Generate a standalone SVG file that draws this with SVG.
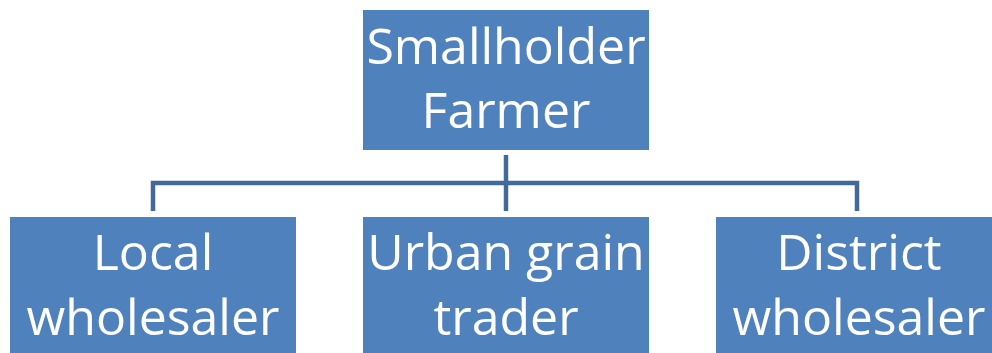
<svg xmlns="http://www.w3.org/2000/svg" width="992" height="353" viewBox="0 0 992 353">
<style>
.box{fill:#4f81bd;}
.t{fill:#ffffff;font-family:"Open Sans","Noto Sans","Liberation Sans",sans-serif;font-size:50px;text-anchor:middle;}
.c{fill:none;stroke:#41699a;stroke-width:4.5;}
</style>
<rect width="992" height="353" fill="#ffffff"/>
<g id="connectors">
<line class="c" x1="506" y1="155" x2="506" y2="211"/>
<polyline class="c" points="153,211 153,183 857,183 857,211"/>
</g>
<g id="smallholder-farmer">
<rect class="box" x="363" y="10" width="286" height="140"/>
<text class="t" x="506" y="64">Smallholder</text>
<text class="t" x="506" y="128">Farmer</text>
</g>
<g id="local-wholesaler">
<rect class="box" x="10" y="217" width="286" height="136"/>
<text class="t" x="153" y="270">Local</text>
<text class="t" x="153" y="335">wholesaler</text>
</g>
<g id="urban-grain-trader">
<rect class="box" x="363" y="217" width="286" height="136"/>
<text class="t" x="506" y="270">Urban grain</text>
<text class="t" x="506" y="335">trader</text>
</g>
<g id="district-wholesaler">
<rect class="box" x="716" y="217" width="286" height="136"/>
<text class="t" x="859" y="270">District</text>
<text class="t" x="859" y="335">wholesaler</text>
</g>
</svg>
